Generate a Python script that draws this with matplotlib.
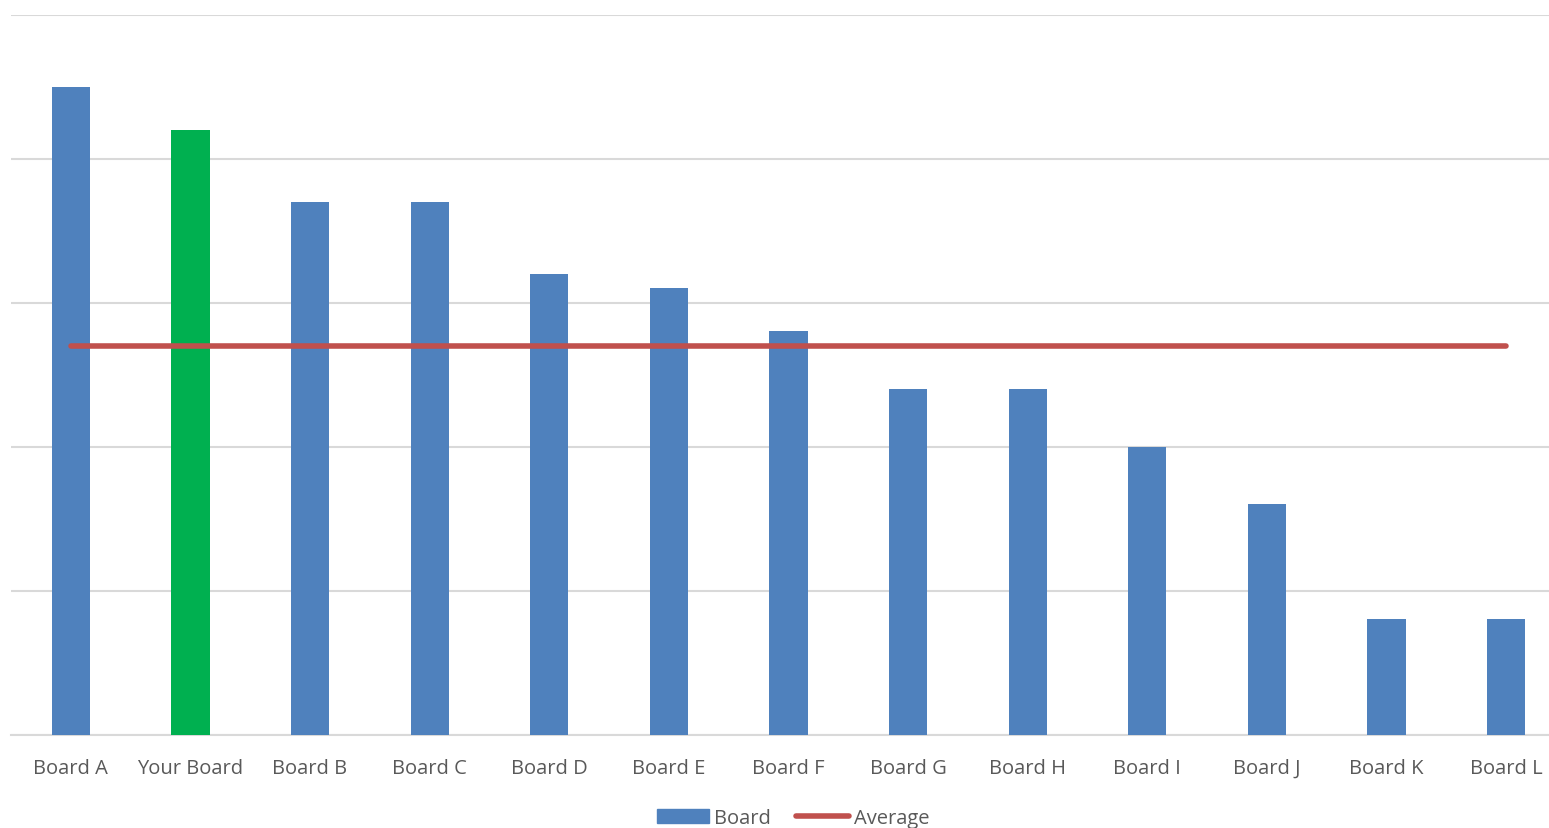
import matplotlib.pyplot as plt
import numpy as np

plt.rcParams['font.family'] = ['Open Sans', 'DejaVu Sans']

boards = ["Board A", "Your Board", "Board B", "Board C", "Board D", "Board E",
          "Board F", "Board G", "Board H", "Board I", "Board J", "Board K", "Board L"]
scores = [45, 42, 37, 37, 32, 31, 28, 24, 24, 20, 16, 8, 8]
average = 27

blue = "#4F81BD"
green = "#00B050"
red = "#C0504D"
colors = [green if b == "Your Board" else blue for b in boards]

fig = plt.figure(figsize=(15.49, 8.29), dpi=100)
# axes runs a bit past the right edge like the original crop
ax = fig.add_axes([11/1549, 93.5/829, 1555/1549, 720/829])

x = np.arange(len(boards))
bars = ax.bar(x, scores, width=0.32, color=colors, zorder=3, label="Board")
avg_line, = ax.plot([x[0], x[-1]], [average, average], color=red, lw=4,
                    solid_capstyle="round", zorder=4, label="Average")

ax.set_xlim(-0.5, len(boards) - 0.5)
ax.set_ylim(0, 50)
ax.set_yticks(np.arange(0, 51, 10))
ax.yaxis.grid(True, color="#D9D9D9", lw=1.5, zorder=0)
ax.tick_params(axis="y", left=False, labelleft=False)
ax.tick_params(axis="x", length=0, pad=17, labelsize=14.5, labelcolor="#595959")
ax.set_xticks(x)
ax.set_xticklabels(boards)
for s in ["top", "right", "left"]:
    ax.spines[s].set_visible(False)
ax.spines["bottom"].set_color("#D9D9D9")
ax.spines["bottom"].set_linewidth(1.5)

# legend: blue patch for the bars, then the average line
board_patch = plt.Rectangle((0, 0), 1, 1, color=blue)
fig.legend([board_patch, avg_line], ["Board", "Average"],
           loc="center", bbox_to_anchor=(793/1549, 1 - 819/829), ncol=2,
           frameon=False, fontsize=14.5, labelcolor="#595959",
           handlelength=2.6, handleheight=0.7, handletextpad=0.25,
           columnspacing=1.25)

fig.savefig("out.png", dpi=100)
